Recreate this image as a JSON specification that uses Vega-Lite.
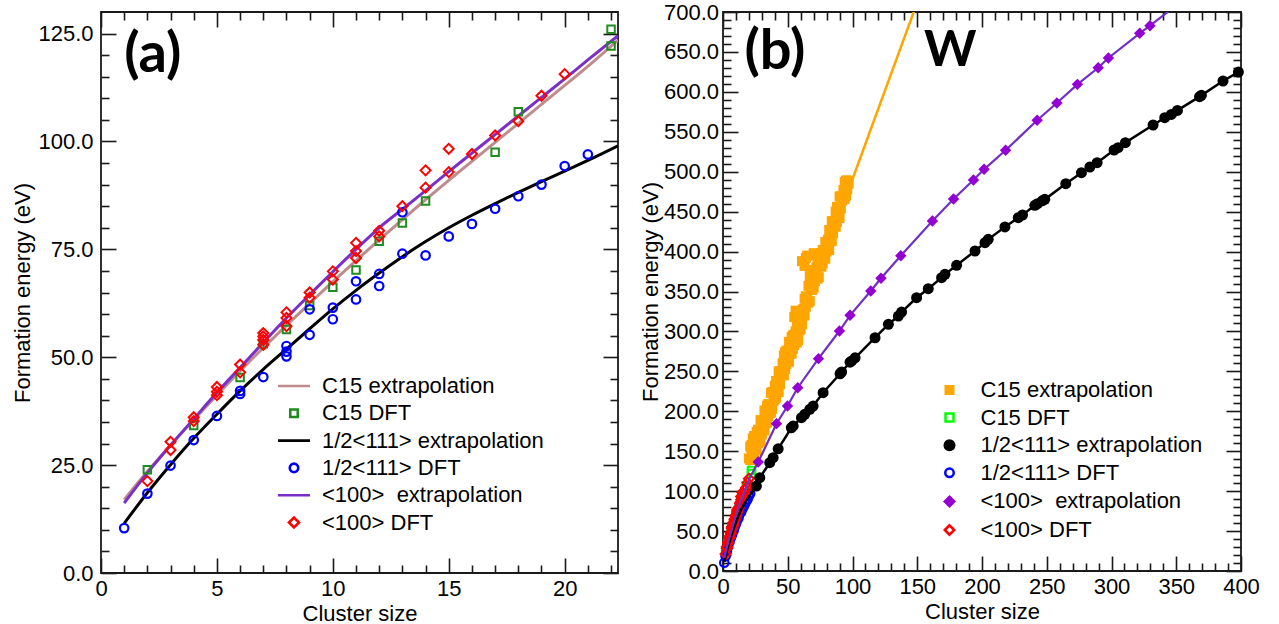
{
  "$schema": "https://vega.github.io/schema/vega-lite/v6.json",
  "background": "white",
  "padding": {"left": 11, "top": 0, "right": 5, "bottom": 0},
  "spacing": 18,
  "datasets": {
    "a_fit": [
      {"series": "C15 extrapolation", "n": 1, "E": 17.0}, {"series": "C15 extrapolation", "n": 2, "E": 23.5}, {"series": "C15 extrapolation", "n": 3, "E": 29.6}, {"series": "C15 extrapolation", "n": 4, "E": 35.5}, {"series": "C15 extrapolation", "n": 5, "E": 41.2}, {"series": "C15 extrapolation", "n": 6, "E": 46.8}, {"series": "C15 extrapolation", "n": 7, "E": 52.2}, {"series": "C15 extrapolation", "n": 8, "E": 57.4}, {"series": "C15 extrapolation", "n": 9, "E": 62.5}, {"series": "C15 extrapolation", "n": 10, "E": 67.5}, {"series": "C15 extrapolation", "n": 11, "E": 72.4}, {"series": "C15 extrapolation", "n": 12, "E": 77.2}, {"series": "C15 extrapolation", "n": 13, "E": 81.9}, {"series": "C15 extrapolation", "n": 14, "E": 86.5}, {"series": "C15 extrapolation", "n": 15, "E": 91.0}, {"series": "C15 extrapolation", "n": 16, "E": 95.4}, {"series": "C15 extrapolation", "n": 17, "E": 99.8}, {"series": "C15 extrapolation", "n": 18, "E": 104.2}, {"series": "C15 extrapolation", "n": 19, "E": 108.6}, {"series": "C15 extrapolation", "n": 20, "E": 113.0}, {"series": "C15 extrapolation", "n": 21, "E": 117.4}, {"series": "C15 extrapolation", "n": 22.3, "E": 123.5},
      {"series": "1/2<111> extrapolation", "n": 1, "E": 11.5}, {"series": "1/2<111> extrapolation", "n": 2, "E": 18.6}, {"series": "1/2<111> extrapolation", "n": 3, "E": 25.1}, {"series": "1/2<111> extrapolation", "n": 4, "E": 31.2}, {"series": "1/2<111> extrapolation", "n": 5, "E": 36.8}, {"series": "1/2<111> extrapolation", "n": 6, "E": 42.2}, {"series": "1/2<111> extrapolation", "n": 7, "E": 47.2}, {"series": "1/2<111> extrapolation", "n": 8, "E": 51.9}, {"series": "1/2<111> extrapolation", "n": 9, "E": 56.6}, {"series": "1/2<111> extrapolation", "n": 10, "E": 61.2}, {"series": "1/2<111> extrapolation", "n": 11, "E": 65.5}, {"series": "1/2<111> extrapolation", "n": 12, "E": 69.5}, {"series": "1/2<111> extrapolation", "n": 13, "E": 73.3}, {"series": "1/2<111> extrapolation", "n": 14, "E": 76.8}, {"series": "1/2<111> extrapolation", "n": 15, "E": 80.0}, {"series": "1/2<111> extrapolation", "n": 16, "E": 82.9}, {"series": "1/2<111> extrapolation", "n": 17, "E": 85.6}, {"series": "1/2<111> extrapolation", "n": 18, "E": 88.2}, {"series": "1/2<111> extrapolation", "n": 19, "E": 90.7}, {"series": "1/2<111> extrapolation", "n": 20, "E": 93.1}, {"series": "1/2<111> extrapolation", "n": 21, "E": 95.6}, {"series": "1/2<111> extrapolation", "n": 22.3, "E": 99.0},
      {"series": "<100>\u00a0 extrapolation", "n": 1, "E": 16.2}, {"series": "<100>\u00a0 extrapolation", "n": 2, "E": 23.2}, {"series": "<100>\u00a0 extrapolation", "n": 3, "E": 29.6}, {"series": "<100>\u00a0 extrapolation", "n": 4, "E": 35.7}, {"series": "<100>\u00a0 extrapolation", "n": 5, "E": 41.8}, {"series": "<100>\u00a0 extrapolation", "n": 6, "E": 47.6}, {"series": "<100>\u00a0 extrapolation", "n": 7, "E": 53.4}, {"series": "<100>\u00a0 extrapolation", "n": 8, "E": 59.1}, {"series": "<100>\u00a0 extrapolation", "n": 9, "E": 64.5}, {"series": "<100>\u00a0 extrapolation", "n": 10, "E": 69.8}, {"series": "<100>\u00a0 extrapolation", "n": 11, "E": 75.0}, {"series": "<100>\u00a0 extrapolation", "n": 12, "E": 80.0}, {"series": "<100>\u00a0 extrapolation", "n": 13, "E": 84.3}, {"series": "<100>\u00a0 extrapolation", "n": 14, "E": 88.6}, {"series": "<100>\u00a0 extrapolation", "n": 15, "E": 93.0}, {"series": "<100>\u00a0 extrapolation", "n": 16, "E": 97.3}, {"series": "<100>\u00a0 extrapolation", "n": 17, "E": 101.6}, {"series": "<100>\u00a0 extrapolation", "n": 18, "E": 105.9}, {"series": "<100>\u00a0 extrapolation", "n": 19, "E": 110.2}, {"series": "<100>\u00a0 extrapolation", "n": 20, "E": 114.5}, {"series": "<100>\u00a0 extrapolation", "n": 21, "E": 118.9}, {"series": "<100>\u00a0 extrapolation", "n": 22.3, "E": 124.5}
    ],
    "dft": [
      {"series": "C15 DFT", "n": 2, "E": 23.9}, {"series": "C15 DFT", "n": 4, "E": 34.2}, {"series": "C15 DFT", "n": 6, "E": 45.3}, {"series": "C15 DFT", "n": 7, "E": 53.1}, {"series": "C15 DFT", "n": 8, "E": 56.4}, {"series": "C15 DFT", "n": 9, "E": 62.0}, {"series": "C15 DFT", "n": 10, "E": 66.2}, {"series": "C15 DFT", "n": 11, "E": 70.2}, {"series": "C15 DFT", "n": 12, "E": 76.9}, {"series": "C15 DFT", "n": 13, "E": 81.1}, {"series": "C15 DFT", "n": 14, "E": 86.2}, {"series": "C15 DFT", "n": 17, "E": 97.5}, {"series": "C15 DFT", "n": 18, "E": 106.9}, {"series": "C15 DFT", "n": 22, "E": 126.0}, {"series": "C15 DFT", "n": 22, "E": 122.1},
      {"series": "1/2<111> DFT", "n": 1, "E": 10.4}, {"series": "1/2<111> DFT", "n": 2, "E": 18.4}, {"series": "1/2<111> DFT", "n": 3, "E": 24.9}, {"series": "1/2<111> DFT", "n": 4, "E": 30.8}, {"series": "1/2<111> DFT", "n": 5, "E": 36.4}, {"series": "1/2<111> DFT", "n": 6, "E": 41.5}, {"series": "1/2<111> DFT", "n": 6, "E": 42.2}, {"series": "1/2<111> DFT", "n": 7, "E": 45.4}, {"series": "1/2<111> DFT", "n": 8, "E": 50.2}, {"series": "1/2<111> DFT", "n": 8, "E": 51.3}, {"series": "1/2<111> DFT", "n": 8, "E": 52.6}, {"series": "1/2<111> DFT", "n": 9, "E": 55.2}, {"series": "1/2<111> DFT", "n": 9, "E": 61.1}, {"series": "1/2<111> DFT", "n": 10, "E": 58.8}, {"series": "1/2<111> DFT", "n": 10, "E": 61.5}, {"series": "1/2<111> DFT", "n": 11, "E": 63.4}, {"series": "1/2<111> DFT", "n": 11, "E": 67.6}, {"series": "1/2<111> DFT", "n": 12, "E": 66.5}, {"series": "1/2<111> DFT", "n": 12, "E": 69.3}, {"series": "1/2<111> DFT", "n": 13, "E": 74.0}, {"series": "1/2<111> DFT", "n": 13, "E": 83.6}, {"series": "1/2<111> DFT", "n": 14, "E": 73.6}, {"series": "1/2<111> DFT", "n": 15, "E": 78.0}, {"series": "1/2<111> DFT", "n": 16, "E": 80.9}, {"series": "1/2<111> DFT", "n": 17, "E": 84.4}, {"series": "1/2<111> DFT", "n": 18, "E": 87.3}, {"series": "1/2<111> DFT", "n": 19, "E": 90.0}, {"series": "1/2<111> DFT", "n": 20, "E": 94.3}, {"series": "1/2<111> DFT", "n": 21, "E": 97.0},
      {"series": "<100> DFT", "n": 2, "E": 21.3}, {"series": "<100> DFT", "n": 3, "E": 28.5}, {"series": "<100> DFT", "n": 3, "E": 30.4}, {"series": "<100> DFT", "n": 4, "E": 35.2}, {"series": "<100> DFT", "n": 4, "E": 36.1}, {"series": "<100> DFT", "n": 5, "E": 41.2}, {"series": "<100> DFT", "n": 5, "E": 42.0}, {"series": "<100> DFT", "n": 5, "E": 43.1}, {"series": "<100> DFT", "n": 6, "E": 46.5}, {"series": "<100> DFT", "n": 6, "E": 48.3}, {"series": "<100> DFT", "n": 7, "E": 52.9}, {"series": "<100> DFT", "n": 7, "E": 54.0}, {"series": "<100> DFT", "n": 7, "E": 54.8}, {"series": "<100> DFT", "n": 7, "E": 55.6}, {"series": "<100> DFT", "n": 8, "E": 57.2}, {"series": "<100> DFT", "n": 8, "E": 59.1}, {"series": "<100> DFT", "n": 8, "E": 60.4}, {"series": "<100> DFT", "n": 9, "E": 63.8}, {"series": "<100> DFT", "n": 9, "E": 65.0}, {"series": "<100> DFT", "n": 10, "E": 68.0}, {"series": "<100> DFT", "n": 10, "E": 69.9}, {"series": "<100> DFT", "n": 11, "E": 73.0}, {"series": "<100> DFT", "n": 11, "E": 74.6}, {"series": "<100> DFT", "n": 11, "E": 76.5}, {"series": "<100> DFT", "n": 12, "E": 78.0}, {"series": "<100> DFT", "n": 12, "E": 79.3}, {"series": "<100> DFT", "n": 13, "E": 85.0}, {"series": "<100> DFT", "n": 14, "E": 89.3}, {"series": "<100> DFT", "n": 14, "E": 93.3}, {"series": "<100> DFT", "n": 15, "E": 92.9}, {"series": "<100> DFT", "n": 15, "E": 98.3}, {"series": "<100> DFT", "n": 16, "E": 97.1}, {"series": "<100> DFT", "n": 17, "E": 101.4}, {"series": "<100> DFT", "n": 18, "E": 104.7}, {"series": "<100> DFT", "n": 19, "E": 110.6}, {"series": "<100> DFT", "n": 20, "E": 115.6}
    ],
    "b_c15": [
      {"n": 20, "E": 141}, {"n": 21, "E": 156}, {"n": 22, "E": 145}, {"n": 23, "E": 166}, {"n": 24, "E": 147}, {"n": 25, "E": 164}, {"n": 26, "E": 151}, {"n": 27, "E": 177}, {"n": 28, "E": 167}, {"n": 29, "E": 189}, {"n": 30, "E": 171},
      {"n": 31, "E": 185}, {"n": 32, "E": 176}, {"n": 33, "E": 198}, {"n": 34, "E": 207}, {"n": 35, "E": 194}, {"n": 36, "E": 203}, {"n": 37, "E": 223}, {"n": 38, "E": 203}, {"n": 39, "E": 224}, {"n": 40, "E": 215},
      {"n": 41, "E": 238}, {"n": 42, "E": 230}, {"n": 43, "E": 224}, {"n": 44, "E": 250}, {"n": 45, "E": 250}, {"n": 46, "E": 247}, {"n": 47, "E": 270}, {"n": 48, "E": 253}, {"n": 49, "E": 276}, {"n": 50, "E": 270},
      {"n": 51, "E": 262}, {"n": 52, "E": 283}, {"n": 53, "E": 293}, {"n": 54, "E": 278}, {"n": 55, "E": 296}, {"n": 55, "E": 318}, {"n": 56, "E": 289}, {"n": 56, "E": 326}, {"n": 57, "E": 311}, {"n": 58, "E": 289}, {"n": 59, "E": 308}, {"n": 60, "E": 320},
      {"n": 61, "E": 309}, {"n": 61, "E": 388}, {"n": 62, "E": 323}, {"n": 63, "E": 341}, {"n": 63, "E": 382}, {"n": 64, "E": 331}, {"n": 64, "E": 392}, {"n": 65, "E": 343}, {"n": 65, "E": 395}, {"n": 66, "E": 336}, {"n": 67, "E": 365}, {"n": 67, "E": 377}, {"n": 68, "E": 352}, {"n": 69, "E": 367}, {"n": 70, "E": 355}, {"n": 70, "E": 398},
      {"n": 71, "E": 374}, {"n": 71, "E": 396}, {"n": 72, "E": 367}, {"n": 73, "E": 389}, {"n": 74, "E": 368}, {"n": 75, "E": 387}, {"n": 76, "E": 398}, {"n": 77, "E": 385}, {"n": 78, "E": 394}, {"n": 79, "E": 412}, {"n": 80, "E": 400},
      {"n": 81, "E": 415}, {"n": 82, "E": 402}, {"n": 83, "E": 424}, {"n": 84, "E": 438}, {"n": 85, "E": 423}, {"n": 86, "E": 434}, {"n": 87, "E": 450}, {"n": 88, "E": 437}, {"n": 89, "E": 454}, {"n": 90, "E": 442},
      {"n": 91, "E": 469}, {"n": 92, "E": 469}, {"n": 93, "E": 466}, {"n": 94, "E": 487}, {"n": 95, "E": 470}, {"n": 96, "E": 489}, {"n": 97, "E": 485},
      {"n": 21, "E": 139}, {"n": 22, "E": 158}, {"n": 23, "E": 143}, {"n": 24, "E": 169}, {"n": 25, "E": 157}, {"n": 26, "E": 174}, {"n": 27, "E": 160}, {"n": 28, "E": 176}, {"n": 29, "E": 162}, {"n": 30, "E": 188},
      {"n": 31, "E": 182}, {"n": 32, "E": 201}, {"n": 33, "E": 185}, {"n": 34, "E": 186}, {"n": 35, "E": 209}, {"n": 36, "E": 208}, {"n": 37, "E": 198}, {"n": 38, "E": 224}, {"n": 39, "E": 213}, {"n": 40, "E": 232},
      {"n": 41, "E": 217}, {"n": 42, "E": 237}, {"n": 43, "E": 250}, {"n": 44, "E": 234}, {"n": 45, "E": 245}, {"n": 46, "E": 260}, {"n": 47, "E": 245}, {"n": 48, "E": 274}, {"n": 49, "E": 259}, {"n": 50, "E": 273},
      {"n": 51, "E": 287}, {"n": 52, "E": 274}, {"n": 53, "E": 272}, {"n": 54, "E": 295}, {"n": 55, "E": 283}, {"n": 56, "E": 300}, {"n": 57, "E": 286}, {"n": 58, "E": 314}, {"n": 59, "E": 301}, {"n": 60, "E": 303},
      {"n": 61, "E": 326}, {"n": 62, "E": 328}, {"n": 63, "E": 320}, {"n": 64, "E": 344}, {"n": 65, "E": 340}, {"n": 66, "E": 357}, {"n": 67, "E": 338}, {"n": 68, "E": 361}, {"n": 69, "E": 352}, {"n": 70, "E": 376},
      {"n": 71, "E": 363}, {"n": 72, "E": 380}, {"n": 73, "E": 366}, {"n": 74, "E": 393}, {"n": 75, "E": 382}, {"n": 76, "E": 381}, {"n": 77, "E": 402}, {"n": 78, "E": 401}, {"n": 79, "E": 391}, {"n": 80, "E": 411},
      {"n": 81, "E": 404}, {"n": 82, "E": 427}, {"n": 83, "E": 417}, {"n": 84, "E": 413}, {"n": 85, "E": 438}, {"n": 86, "E": 437}, {"n": 87, "E": 431}, {"n": 88, "E": 456}, {"n": 89, "E": 447}, {"n": 90, "E": 469},
      {"n": 91, "E": 454}, {"n": 92, "E": 464}, {"n": 93, "E": 477}, {"n": 94, "E": 466}, {"n": 95, "E": 489}, {"n": 96, "E": 478}
    ],
    "b_c15_fit": [
      {"n": 20, "E": 132}, {"n": 98.5, "E": 484}, {"n": 150, "E": 712}
    ],
    "b_111": [
      {"kind": "fit", "n": 1, "E": 11.5}, {"kind": "fit", "n": 2, "E": 18.6}, {"kind": "fit", "n": 3, "E": 25.1}, {"kind": "fit", "n": 4, "E": 31.2}, {"kind": "fit", "n": 6, "E": 42.2}, {"kind": "fit", "n": 8, "E": 51.9}, {"kind": "fit", "n": 10, "E": 61.2}, {"kind": "fit", "n": 12, "E": 69.5}, {"kind": "fit", "n": 14, "E": 76.8}, {"kind": "fit", "n": 16, "E": 82.9}, {"kind": "fit", "n": 18, "E": 88.2}, {"kind": "fit", "n": 20, "E": 93.1},
      {"kind": "calc", "n": 25.8, "E": 106.4}, {"kind": "calc", "n": 28.4, "E": 116.8}, {"kind": "calc", "n": 36.1, "E": 135.6}, {"kind": "calc", "n": 38.7, "E": 141.9}, {"kind": "calc", "n": 42.6, "E": 153.0}, {"kind": "calc", "n": 52.8, "E": 179.4}, {"kind": "calc", "n": 54.2, "E": 181.6}, {"kind": "calc", "n": 60.6, "E": 192.0}, {"kind": "calc", "n": 63.1, "E": 196.2}, {"kind": "calc", "n": 67.0, "E": 202.5}, {"kind": "calc", "n": 69.6, "E": 206.6}, {"kind": "calc", "n": 77.3, "E": 223.3}, {"kind": "calc", "n": 90.4, "E": 247.0}, {"kind": "calc", "n": 91.6, "E": 249.2}, {"kind": "calc", "n": 98.1, "E": 261.5}, {"kind": "calc", "n": 99.4, "E": 263.0}, {"kind": "calc", "n": 102.0, "E": 267.0}, {"kind": "calc", "n": 117.4, "E": 292.1}, {"kind": "calc", "n": 127.7, "E": 308.9}, {"kind": "calc", "n": 135.4, "E": 319.3}, {"kind": "calc", "n": 137.9, "E": 324.3}, {"kind": "calc", "n": 149.5, "E": 342.2}, {"kind": "calc", "n": 158.5, "E": 353.5}, {"kind": "calc", "n": 168.8, "E": 367.3}, {"kind": "calc", "n": 171.4, "E": 371.5}, {"kind": "calc", "n": 180.4, "E": 382.8}, {"kind": "calc", "n": 194.6, "E": 400.7}, {"kind": "calc", "n": 202.3, "E": 411.1}, {"kind": "calc", "n": 204.8, "E": 415.3}, {"kind": "calc", "n": 217.7, "E": 430.8}, {"kind": "calc", "n": 228.0, "E": 442.4}, {"kind": "calc", "n": 231.3, "E": 445.8}, {"kind": "calc", "n": 240.8, "E": 457.9}, {"kind": "calc", "n": 242.9, "E": 460.0}, {"kind": "calc", "n": 246.5, "E": 463.5}, {"kind": "calc", "n": 248.5, "E": 465.4}, {"kind": "calc", "n": 264.7, "E": 485.0}, {"kind": "calc", "n": 276.8, "E": 498.8}, {"kind": "calc", "n": 283.3, "E": 505.9}, {"kind": "calc", "n": 288.9, "E": 511.3}, {"kind": "calc", "n": 302.0, "E": 527.2}, {"kind": "calc", "n": 305.1, "E": 530.1}, {"kind": "calc", "n": 310.7, "E": 536.4}, {"kind": "calc", "n": 332.1, "E": 558.5}, {"kind": "calc", "n": 341.1, "E": 567.6}, {"kind": "calc", "n": 346.2, "E": 571.8}, {"kind": "calc", "n": 350.9, "E": 576.8}, {"kind": "calc", "n": 368.0, "E": 594.0}, {"kind": "calc", "n": 369.4, "E": 595.6}, {"kind": "calc", "n": 386.1, "E": 613.6}, {"kind": "calc", "n": 398.0, "E": 624.8}
    ],
    "b_100": [
      {"kind": "fit", "n": 1, "E": 16.2}, {"kind": "fit", "n": 2, "E": 23.2}, {"kind": "fit", "n": 3, "E": 29.6}, {"kind": "fit", "n": 4, "E": 35.7}, {"kind": "fit", "n": 6, "E": 47.6}, {"kind": "fit", "n": 8, "E": 59.1}, {"kind": "fit", "n": 10, "E": 69.8}, {"kind": "fit", "n": 12, "E": 80.0}, {"kind": "fit", "n": 14, "E": 88.6}, {"kind": "fit", "n": 16, "E": 97.3}, {"kind": "fit", "n": 18, "E": 105.9}, {"kind": "fit", "n": 20, "E": 114.5},
      {"kind": "calc", "n": 27.2, "E": 136.5}, {"kind": "calc", "n": 41.3, "E": 184.5}, {"kind": "calc", "n": 49.8, "E": 206.6}, {"kind": "calc", "n": 57.7, "E": 229.5}, {"kind": "calc", "n": 73.7, "E": 265.9}, {"kind": "calc", "n": 89.9, "E": 300.5}, {"kind": "calc", "n": 98.1, "E": 320.2}, {"kind": "calc", "n": 114.1, "E": 350.6}, {"kind": "calc", "n": 122.0, "E": 366.6}, {"kind": "calc", "n": 137.3, "E": 394.8}, {"kind": "calc", "n": 161.7, "E": 438.3}, {"kind": "calc", "n": 178.0, "E": 465.8}, {"kind": "calc", "n": 193.4, "E": 489.6}, {"kind": "calc", "n": 201.6, "E": 503.0}, {"kind": "calc", "n": 218.2, "E": 526.8}, {"kind": "calc", "n": 242.6, "E": 564.5}, {"kind": "calc", "n": 257.8, "E": 586.0}, {"kind": "calc", "n": 273.7, "E": 609.4}, {"kind": "calc", "n": 289.7, "E": 630.2}, {"kind": "calc", "n": 297.6, "E": 642.4}, {"kind": "calc", "n": 321.8, "E": 673.3}, {"kind": "calc", "n": 329.7, "E": 682.8},
      {"kind": "fit", "n": 345, "E": 702}
    ]
  },
  "hconcat": [
    {
      "width": 517,
      "height": 561,
      "resolve": {"axis": {"x": "independent", "y": "independent"}},
      "layer": [
        {
          "data": {"name": "a_fit"},
          "mark": {"type": "line", "strokeWidth": 3, "interpolate": "monotone", "clip": true},
          "encoding": {
            "x": {"field": "n", "type": "quantitative", "scale": {"domain": [0, 22.3], "nice": false, "zero": false},
                  "axis": {"orient": "bottom", "values": [0, 5, 10, 15, 20], "format": "d", "tickSize": -15, "labelPadding": 20.5, "title": "Cluster size", "titlePadding": 4}},
            "y": {"field": "E", "type": "quantitative", "scale": {"domain": [0, 130], "nice": false},
                  "axis": {"orient": "left", "values": [0, 25, 50, 75, 100, 125], "format": ".1f", "tickSize": -15, "labelPadding": 23, "title": "Formation energy (eV)", "titlePadding": 3}},
            "color": {"field": "series", "type": "nominal",
                      "scale": {"domain": ["C15 extrapolation", "C15 DFT", "1/2<111> extrapolation", "1/2<111> DFT", "<100>\u00a0 extrapolation", "<100> DFT"],
                                "range": ["#BE8C8C", "#1E8C1E", "#000000", "#0000FF", "#7A2FC8", "#FF0000"]},
                      "legend": {
                        "orient": "none", "legendX": 175.5, "legendY": 363, "direction": "vertical", "title": null,
                        "padding": 0, "rowPadding": 5.3, "clipHeight": 22, "labelOffset": 10.5, "labelLimit": 500,
                        "encode": {"symbols": {"update": {
                          "shape": {"signal": "['stroke','square','stroke','circle','stroke','diamond'][datum.index]"},
                          "stroke": {"signal": "['#BE8C8C','#1E8C1E','#000000','#0000FF','#7A2FC8','#FF0000'][datum.index]"},
                          "fill": {"value": "transparent"},
                          "size": {"signal": "[1024,56,1024,72,1024,100][indexof(['C15 extrapolation','C15 DFT','1/2<111> extrapolation','1/2<111> DFT','<100>\u00a0 extrapolation','<100> DFT'], isString(datum) ? datum : datum.value)]"},
                          "strokeWidth": {"value": 2.6},
                          "opacity": {"value": 1}
                        }}}
                      }}
          }
        },
        {
          "data": {"name": "dft"},
          "transform": [{"filter": "datum.series === 'C15 DFT'"}],
          "mark": {"type": "point", "shape": "square", "filled": false, "strokeWidth": 2, "size": 56, "opacity": 1},
          "encoding": {
            "x": {"field": "n", "type": "quantitative", "axis": {"orient": "top", "values": [0, 5, 10, 15, 20], "tickSize": -15, "labels": false, "title": null}},
            "y": {"field": "E", "type": "quantitative", "axis": {"orient": "right", "values": [0, 25, 50, 75, 100, 125], "tickSize": -15, "labels": false, "title": null}},
            "color": {"field": "series", "type": "nominal", "legend": null}
          }
        },
        {
          "data": {"name": "dft"},
          "transform": [{"filter": "datum.series === '1/2<111> DFT'"}],
          "mark": {"type": "point", "shape": "circle", "filled": false, "strokeWidth": 2.2, "size": 72, "opacity": 1},
          "encoding": {
            "x": {"field": "n", "type": "quantitative", "axis": {"orient": "bottom", "values": [1, 2, 3, 4, 6, 7, 8, 9, 11, 12, 13, 14, 16, 17, 18, 19, 21, 22], "tickSize": -8, "labels": false, "title": null}},
            "y": {"field": "E", "type": "quantitative", "axis": {"orient": "left", "values": [5, 10, 15, 20, 30, 35, 40, 45, 55, 60, 65, 70, 80, 85, 90, 95, 105, 110, 115, 120], "tickSize": -8, "labels": false, "title": null}},
            "color": {"field": "series", "type": "nominal", "legend": null}
          }
        },
        {
          "data": {"name": "dft"},
          "transform": [{"filter": "datum.series === '<100> DFT'"}],
          "mark": {"type": "point", "shape": "diamond", "filled": false, "strokeWidth": 2, "size": 100, "opacity": 1},
          "encoding": {
            "x": {"field": "n", "type": "quantitative", "axis": {"orient": "top", "values": [1, 2, 3, 4, 6, 7, 8, 9, 11, 12, 13, 14, 16, 17, 18, 19, 21, 22], "tickSize": -8, "labels": false, "title": null}},
            "y": {"field": "E", "type": "quantitative", "axis": {"orient": "right", "values": [5, 10, 15, 20, 30, 35, 40, 45, 55, 60, 65, 70, 80, 85, 90, 95, 105, 110, 115, 120], "tickSize": -8, "labels": false, "title": null}},
            "color": {"field": "series", "type": "nominal", "legend": null}
          }
        },
        {
          "data": {"values": [{"label": "(a)"}]},
          "mark": {"type": "text", "font": "Lato", "fontWeight": "bold", "fontSize": 56, "align": "left", "baseline": "alphabetic", "color": "#000"},
          "encoding": {
            "x": {"datum": 1.0, "type": "quantitative", "axis": null},
            "y": {"datum": 116.2, "type": "quantitative", "axis": null},
            "text": {"field": "label"}
          }
        }
      ]
    },
    {
      "width": 518,
      "height": 559,
      "resolve": {"axis": {"x": "independent", "y": "independent"}},
      "layer": [
        {
          "data": {"name": "b_c15"},
          "transform": [{"calculate": "'C15 extrapolation'", "as": "series"}],
          "mark": {"type": "point", "filled": true, "strokeWidth": 2.5, "opacity": 1},
          "encoding": {
            "x": {"field": "n", "type": "quantitative", "scale": {"domain": [0, 400], "nice": false, "zero": false},
                  "axis": {"orient": "bottom", "values": [0, 50, 100, 150, 200, 250, 300, 350, 400], "format": "d", "tickSize": -15, "labelPadding": 20.5, "title": "Cluster size", "titlePadding": 4}},
            "y": {"field": "E", "type": "quantitative", "scale": {"domain": [0, 700], "nice": false},
                  "axis": {"orient": "left", "values": [0, 50, 100, 150, 200, 250, 300, 350, 400, 450, 500, 550, 600, 650, 700], "format": ".1f", "tickSize": -15, "labelPadding": 19.5, "title": "Formation energy (eV)", "titlePadding": 1}},
            "fill": {"field": "series", "type": "nominal",
                     "scale": {"domain": ["C15 extrapolation", "C15 DFT", "1/2<111> extrapolation", "1/2<111> DFT", "<100>\u00a0 extrapolation", "<100> DFT"],
                               "range": ["#FFA500", "transparent", "#000000", "transparent", "#9400D3", "transparent"]},
                     "legend": {
                       "orient": "none", "legendX": 215.5, "legendY": 367, "direction": "vertical", "title": null,
                       "padding": 0, "rowPadding": 5.6, "labelOffset": 20, "labelLimit": 500,
                       "symbolStrokeWidth": 2.5, "symbolOpacity": 1
                     }},
            "stroke": {"field": "series", "type": "nominal",
                       "scale": {"domain": ["C15 extrapolation", "C15 DFT", "1/2<111> extrapolation", "1/2<111> DFT", "<100>\u00a0 extrapolation", "<100> DFT"],
                                 "range": ["transparent", "#00FF00", "transparent", "#0000FF", "transparent", "#FF0000"]}},
            "shape": {"field": "series", "type": "nominal",
                      "scale": {"domain": ["C15 extrapolation", "C15 DFT", "1/2<111> extrapolation", "1/2<111> DFT", "<100>\u00a0 extrapolation", "<100> DFT"],
                                "range": ["square", "square", "circle", "circle", "diamond", "diamond"]}},
            "size": {"field": "series", "type": "nominal",
                     "scale": {"type": "ordinal", "domain": ["C15 extrapolation", "C15 DFT", "1/2<111> extrapolation", "1/2<111> DFT", "<100>\u00a0 extrapolation", "<100> DFT"],
                               "range": [100, 64, 144, 72, 169, 90]}}
          }
        },
        {
          "data": {"name": "b_c15_fit"},
          "mark": {"type": "line", "color": "#FFA500", "strokeWidth": 2.5, "clip": true},
          "encoding": {
            "x": {"field": "n", "type": "quantitative", "axis": {"orient": "top", "values": [0, 50, 100, 150, 200, 250, 300, 350, 400], "tickSize": -15, "labels": false, "title": null}},
            "y": {"field": "E", "type": "quantitative", "axis": {"orient": "right", "values": [0, 50, 100, 150, 200, 250, 300, 350, 400, 450, 500, 550, 600, 650, 700], "tickSize": -15, "labels": false, "title": null}}
          }
        },
        {
          "data": {"name": "dft"},
          "transform": [{"filter": "datum.series === 'C15 DFT'"}],
          "mark": {"type": "point", "shape": "square", "filled": false, "color": "#00FF00", "strokeWidth": 2, "size": 56, "opacity": 1},
          "encoding": {
            "x": {"field": "n", "type": "quantitative", "axis": {"orient": "bottom", "values": [10, 20, 30, 40, 60, 70, 80, 90, 110, 120, 130, 140, 160, 170, 180, 190, 210, 220, 230, 240, 260, 270, 280, 290, 310, 320, 330, 340, 360, 370, 380, 390], "tickSize": -8, "labels": false, "title": null}},
            "y": {"field": "E", "type": "quantitative", "axis": {"orient": "left", "values": [10, 20, 30, 40, 60, 70, 80, 90, 110, 120, 130, 140, 160, 170, 180, 190, 210, 220, 230, 240, 260, 270, 280, 290, 310, 320, 330, 340, 360, 370, 380, 390, 410, 420, 430, 440, 460, 470, 480, 490, 510, 520, 530, 540, 560, 570, 580, 590, 610, 620, 630, 640, 660, 670, 680, 690], "tickSize": -8, "labels": false, "title": null}}
          }
        },
        {
          "data": {"name": "dft"},
          "transform": [{"filter": "datum.series === '1/2<111> DFT'"}],
          "mark": {"type": "point", "shape": "circle", "filled": false, "color": "#0000FF", "strokeWidth": 2.2, "size": 72, "opacity": 1},
          "encoding": {
            "x": {"field": "n", "type": "quantitative", "axis": {"orient": "top", "values": [10, 20, 30, 40, 60, 70, 80, 90, 110, 120, 130, 140, 160, 170, 180, 190, 210, 220, 230, 240, 260, 270, 280, 290, 310, 320, 330, 340, 360, 370, 380, 390], "tickSize": -8, "labels": false, "title": null}},
            "y": {"field": "E", "type": "quantitative", "axis": {"orient": "right", "values": [10, 20, 30, 40, 60, 70, 80, 90, 110, 120, 130, 140, 160, 170, 180, 190, 210, 220, 230, 240, 260, 270, 280, 290, 310, 320, 330, 340, 360, 370, 380, 390, 410, 420, 430, 440, 460, 470, 480, 490, 510, 520, 530, 540, 560, 570, 580, 590, 610, 620, 630, 640, 660, 670, 680, 690], "tickSize": -8, "labels": false, "title": null}}
          }
        },
        {
          "data": {"name": "dft"},
          "transform": [{"filter": "datum.series === '<100> DFT'"}],
          "mark": {"type": "point", "shape": "diamond", "filled": false, "color": "#FF0000", "strokeWidth": 2, "size": 100, "opacity": 1},
          "encoding": {
            "x": {"field": "n", "type": "quantitative", "axis": null},
            "y": {"field": "E", "type": "quantitative", "axis": null}
          }
        },
        {
          "data": {"name": "b_111"},
          "mark": {"type": "line", "color": "#000000", "strokeWidth": 2.5, "clip": true},
          "encoding": {
            "x": {"field": "n", "type": "quantitative", "axis": null},
            "y": {"field": "E", "type": "quantitative", "axis": null}
          }
        },
        {
          "data": {"name": "b_111"},
          "transform": [{"filter": "datum.kind === 'calc'"}],
          "mark": {"type": "point", "shape": "circle", "filled": true, "color": "#000000", "size": 121, "opacity": 1},
          "encoding": {
            "x": {"field": "n", "type": "quantitative", "axis": null},
            "y": {"field": "E", "type": "quantitative", "axis": null}
          }
        },
        {
          "data": {"name": "b_100"},
          "mark": {"type": "line", "color": "#7030C4", "strokeWidth": 2.2, "clip": true},
          "encoding": {
            "x": {"field": "n", "type": "quantitative", "axis": null},
            "y": {"field": "E", "type": "quantitative", "axis": null}
          }
        },
        {
          "data": {"name": "b_100"},
          "transform": [{"filter": "datum.kind === 'calc'"}],
          "mark": {"type": "point", "shape": "diamond", "filled": true, "color": "#9400D3", "size": 130, "opacity": 1},
          "encoding": {
            "x": {"field": "n", "type": "quantitative", "axis": null},
            "y": {"field": "E", "type": "quantitative", "axis": null}
          }
        },
        {
          "data": {"values": [{"label": "(b)"}]},
          "mark": {"type": "text", "font": "Lato", "fontWeight": "bold", "fontSize": 56, "align": "left", "baseline": "alphabetic", "color": "#000"},
          "encoding": {
            "x": {"datum": 16.6, "type": "quantitative", "axis": null},
            "y": {"datum": 628.6, "type": "quantitative", "axis": null},
            "text": {"field": "label"}
          }
        },
        {
          "data": {"values": [{"label": "W"}]},
          "mark": {"type": "text", "font": "Lato", "fontWeight": "bold", "fontSize": 50, "align": "left", "baseline": "alphabetic", "color": "#000"},
          "encoding": {
            "x": {"datum": 155.2, "type": "quantitative", "axis": null},
            "y": {"datum": 632.4, "type": "quantitative", "axis": null},
            "text": {"field": "label"}
          }
        }
      ]
    }
  ],
  "resolve": {
    "scale": {"x": "independent", "y": "independent", "color": "independent", "shape": "independent", "fill": "independent", "stroke": "independent", "size": "independent"},
    "legend": {"color": "independent", "shape": "independent", "fill": "independent", "stroke": "independent", "size": "independent"}
  },
  "config": {
    "view": {"stroke": "#1a1a1a", "strokeWidth": 1.8},
    "axis": {
      "domain": false, "grid": false, "ticks": true,
      "labelFont": "Liberation Sans", "labelFontSize": 22, "labelColor": "#000",
      "titleFont": "Liberation Sans", "titleFontSize": 22, "titleFontWeight": "normal", "titleColor": "#000",
      "tickColor": "#1a1a1a", "tickWidth": 1.6,
      "labelFlush": false, "labelOverlap": false, "labelBound": false
    },
    "legend": {"labelFont": "Liberation Sans", "labelFontSize": 22, "labelColor": "#000"}
  }
}
